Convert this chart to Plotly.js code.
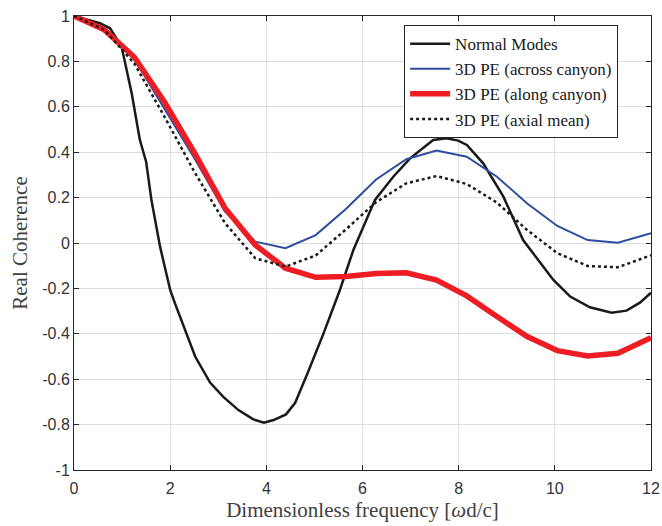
<!DOCTYPE html>
<html>
<head>
<meta charset="utf-8">
<script src="https://cdn.plot.ly/plotly-3.0.1.min.js"></script>
<style>html,body{margin:0;padding:0;background:#fff;}#chart{width:662px;height:526px;}</style>
</head>
<body>
<div id="chart"></div>
<script>
// Normal Modes (black solid)
const nmX = [0, 0.54, 0.75, 0.99, 1.2, 1.37, 1.5, 1.61, 1.79, 2.0, 2.1, 2.52, 2.83, 3.1, 3.42, 3.73, 3.95, 4.15, 4.41, 4.6, 4.87, 5.19, 5.53, 5.81, 6.26, 6.64, 6.99, 7.47, 7.75, 7.99, 8.17, 8.51, 8.93, 9.34, 9.97, 10.32, 10.73, 11.18, 11.49, 11.77, 12.0];
const nmY = [1, 0.968, 0.946, 0.865, 0.66, 0.454, 0.358, 0.19, -0.016, -0.207, -0.266, -0.50, -0.615, -0.677, -0.736, -0.777, -0.792, -0.78, -0.755, -0.704, -0.567, -0.398, -0.207, -0.031, 0.19, 0.292, 0.373, 0.454, 0.461, 0.451, 0.432, 0.351, 0.204, 0.013, -0.163, -0.236, -0.283, -0.307, -0.298, -0.263, -0.219];

// 3D PE frequency samples
const peX = [0, 0.628, 1.257, 1.885, 2.513, 3.142, 3.770, 4.398, 5.027, 5.655, 6.283, 6.912, 7.540, 8.168, 8.796, 9.425, 10.053, 10.681, 11.310, 12.0];
const acrossY = [1, 0.94, 0.81, 0.59, 0.37, 0.138, 0.006, -0.023, 0.035, 0.15, 0.28, 0.369, 0.407, 0.38, 0.292, 0.174, 0.075, 0.013, 0.001, 0.043];
const alongY  = [1, 0.94, 0.818, 0.62, 0.395, 0.153, -0.009, -0.111, -0.151, -0.148, -0.134, -0.131, -0.163, -0.233, -0.324, -0.412, -0.474, -0.498, -0.486, -0.417];
const meanY   = [1, 0.94, 0.79, 0.555, 0.31, 0.087, -0.067, -0.104, -0.055, 0.06, 0.18, 0.263, 0.295, 0.26, 0.178, 0.057, -0.045, -0.101, -0.107, -0.054];

const names = ['Normal Modes', '3D PE (across canyon)', '3D PE (along canyon)', '3D PE (axial mean)'];
const xTicks = [0, 2, 4, 6, 8, 10, 12];
const yTicks = [-1, -0.8, -0.6, -0.4, -0.2, 0, 0.2, 0.4, 0.6, 0.8, 1];

const traces = [
  {x: nmX, y: nmY, name: names[0], mode: 'lines', line: {color: '#1a1a1a', width: 2.5}},
  {x: peX, y: acrossY, name: names[1], mode: 'lines', line: {color: '#2f4da0', width: 2}},
  {x: peX, y: alongY, name: names[2], mode: 'lines', line: {color: '#ee1d24', width: 5.5}},
  {x: peX, y: meanY, name: names[3], mode: 'lines', line: {color: '#1a1a1a', width: 2.5, dash: 'dot'}}
];

const axCommon = {
  showline: true, mirror: 'ticks', linecolor: '#262626', linewidth: 1,
  ticks: 'inside', ticklen: 5, tickcolor: '#262626', tickwidth: 1,
  showgrid: true, gridcolor: '#dedede', gridwidth: 1,
  zeroline: false,
  tickfont: {family: 'Liberation Sans, Arial, sans-serif', size: 16, color: '#333333'}
};

const layout = {
  width: 662, height: 526,
  margin: {l: 74, r: 11, t: 16, b: 56},
  paper_bgcolor: '#fff', plot_bgcolor: '#fff',
  showlegend: true,
  xaxis: Object.assign({}, axCommon, {
    range: [0, 12], tickvals: xTicks, ticktext: xTicks.map(String),
    ticklabelstandoff: 4,
    title: {text: 'Dimensionless frequency [<i>ω</i>d/c]', standoff: 6,
            font: {family: 'Liberation Serif, Times New Roman, serif', size: 21, color: '#404040'}}
  }),
  yaxis: Object.assign({}, axCommon, {
    range: [-1, 1], tickvals: yTicks, ticktext: yTicks.map(v => String(v)),
    title: {text: 'Real Coherence', standoff: 8,
            font: {family: 'Liberation Serif, Times New Roman, serif', size: 21, color: '#404040'}}
  }),
  legend: {
    x: 0.943, y: 0.98, xanchor: 'right', yanchor: 'top',
    bgcolor: '#fff', bordercolor: '#262626', borderwidth: 1,
    font: {family: 'Liberation Serif, Times New Roman, serif', size: 17, color: '#1a1a1a'},
    tracegroupgap: 0, itemwidth: 40
  }
};

Plotly.newPlot('chart', traces, layout, {displayModeBar: false, staticPlot: true});
</script>
</body>
</html>
